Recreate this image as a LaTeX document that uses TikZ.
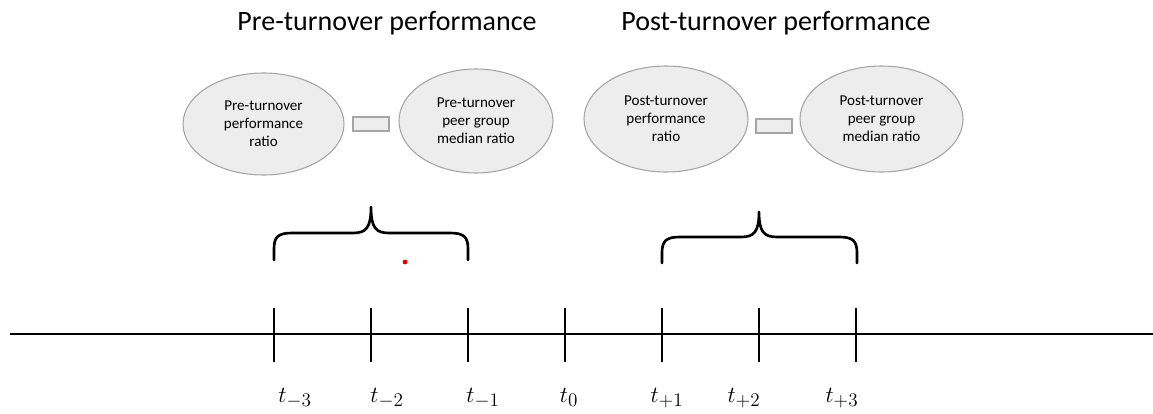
\documentclass[tikz,border=0pt]{standalone}
\usepackage{fontspec}
\setmainfont{Carlito}
\DeclareMathSizes{19}{19}{14.5}{11}
\usetikzlibrary{shapes.geometric}
\definecolor{ellfill}{HTML}{EDEDED}
\definecolor{elldraw}{HTML}{A5A5A5}
\tikzset{
  ratio/.style={ellipse, draw=elldraw, fill=ellfill, line width=0.8pt, inner sep=0pt,
    align=center, font=\fontsize{11.3}{13.5}\selectfont},
  minusbox/.style={rectangle, draw=elldraw, fill=ellfill, line width=0.8pt, inner sep=0pt,
    minimum width=27pt, minimum height=10.5pt},
  title/.style={font=\fontsize{21}{25}\selectfont, anchor=base},
  tlabel/.style={font=\fontsize{19}{22}\selectfont, anchor=base, inner sep=0pt},
  axis/.style={line width=2pt, black},
  brace/.style={line width=2pt, black, line cap=round, line join=round}
}
\begin{document}
\begin{tikzpicture}[x=0.75pt,y=-0.75pt]
\useasboundingbox (0,0) rectangle (1153,414);

% titles
\node[title] (pretitle) at (387,30) {Pre-turnover performance};
\node[title] (posttitle) at (776,30) {Post-turnover performance};

% ellipses and boxes
\node[ratio, minimum width=120.75pt, minimum height=76.5pt] (e1) at (263.5,124) {Pre-turnover\\performance\\ratio};
\node[minusbox] (m1) at (371,124) {};
\node[ratio, minimum width=115.5pt, minimum height=78pt] (e2) at (476,121) {Pre-turnover\\peer group\\median ratio};
\node[ratio, minimum width=123pt, minimum height=79.5pt] (e3) at (666,119) {Post-turnover\\performance\\ratio};
\node[minusbox] (m2) at (774,126) {};
\node[ratio, minimum width=122.25pt, minimum height=79.5pt] (e4) at (881.5,119) {Post-turnover\\peer group\\median ratio};

% braces
\draw[brace] (274,260) -- (274,249) .. controls (274,237) and (278,233) .. (292,233) -- (353,233)
  .. controls (366,233) and (371,228) .. (371,207)
  .. controls (371,228) and (376,233) .. (389,233) -- (450,233)
  .. controls (464,233) and (468,237) .. (468,249) -- (468,260);
\draw[brace] (662,263) -- (662,253) .. controls (662,241) and (666,237) .. (680,237) -- (741,237)
  .. controls (754,237) and (759,232) .. (759,212)
  .. controls (759,232) and (764,237) .. (777,237) -- (839,237)
  .. controls (853,237) and (857,241) .. (857,253) -- (857,263);

% red dot
\fill[red!90!black] (405,262) circle (1.8pt);

% timeline
\coordinate (axl) at (10,334);
\coordinate (axr) at (1153,334);
\draw[axis] (axl) -- (axr);
\foreach \x/\n in {274/m3,371/m2,468/m1,565/z,662/p1,759/p2,856/p3}{
  \coordinate (tt\n) at (\x,308);
  \coordinate (tb\n) at (\x,362);
  \draw[axis] (tt\n) -- (tb\n);
}

% labels
\node[tlabel] (l1) at (295,402) {$t_{-3}$};
\node[tlabel] (l2) at (387,402) {$t_{-2}$};
\node[tlabel] (l3) at (483,402) {$t_{-1}$};
\node[tlabel] (l4) at (569,402) {$t_{0}$};
\node[tlabel] (l5) at (667,402) {$t_{+1}$};
\node[tlabel] (l6) at (744,402) {$t_{+2}$};
\node[tlabel] (l7) at (842,402) {$t_{+3}$};
\end{tikzpicture}
\end{document}
